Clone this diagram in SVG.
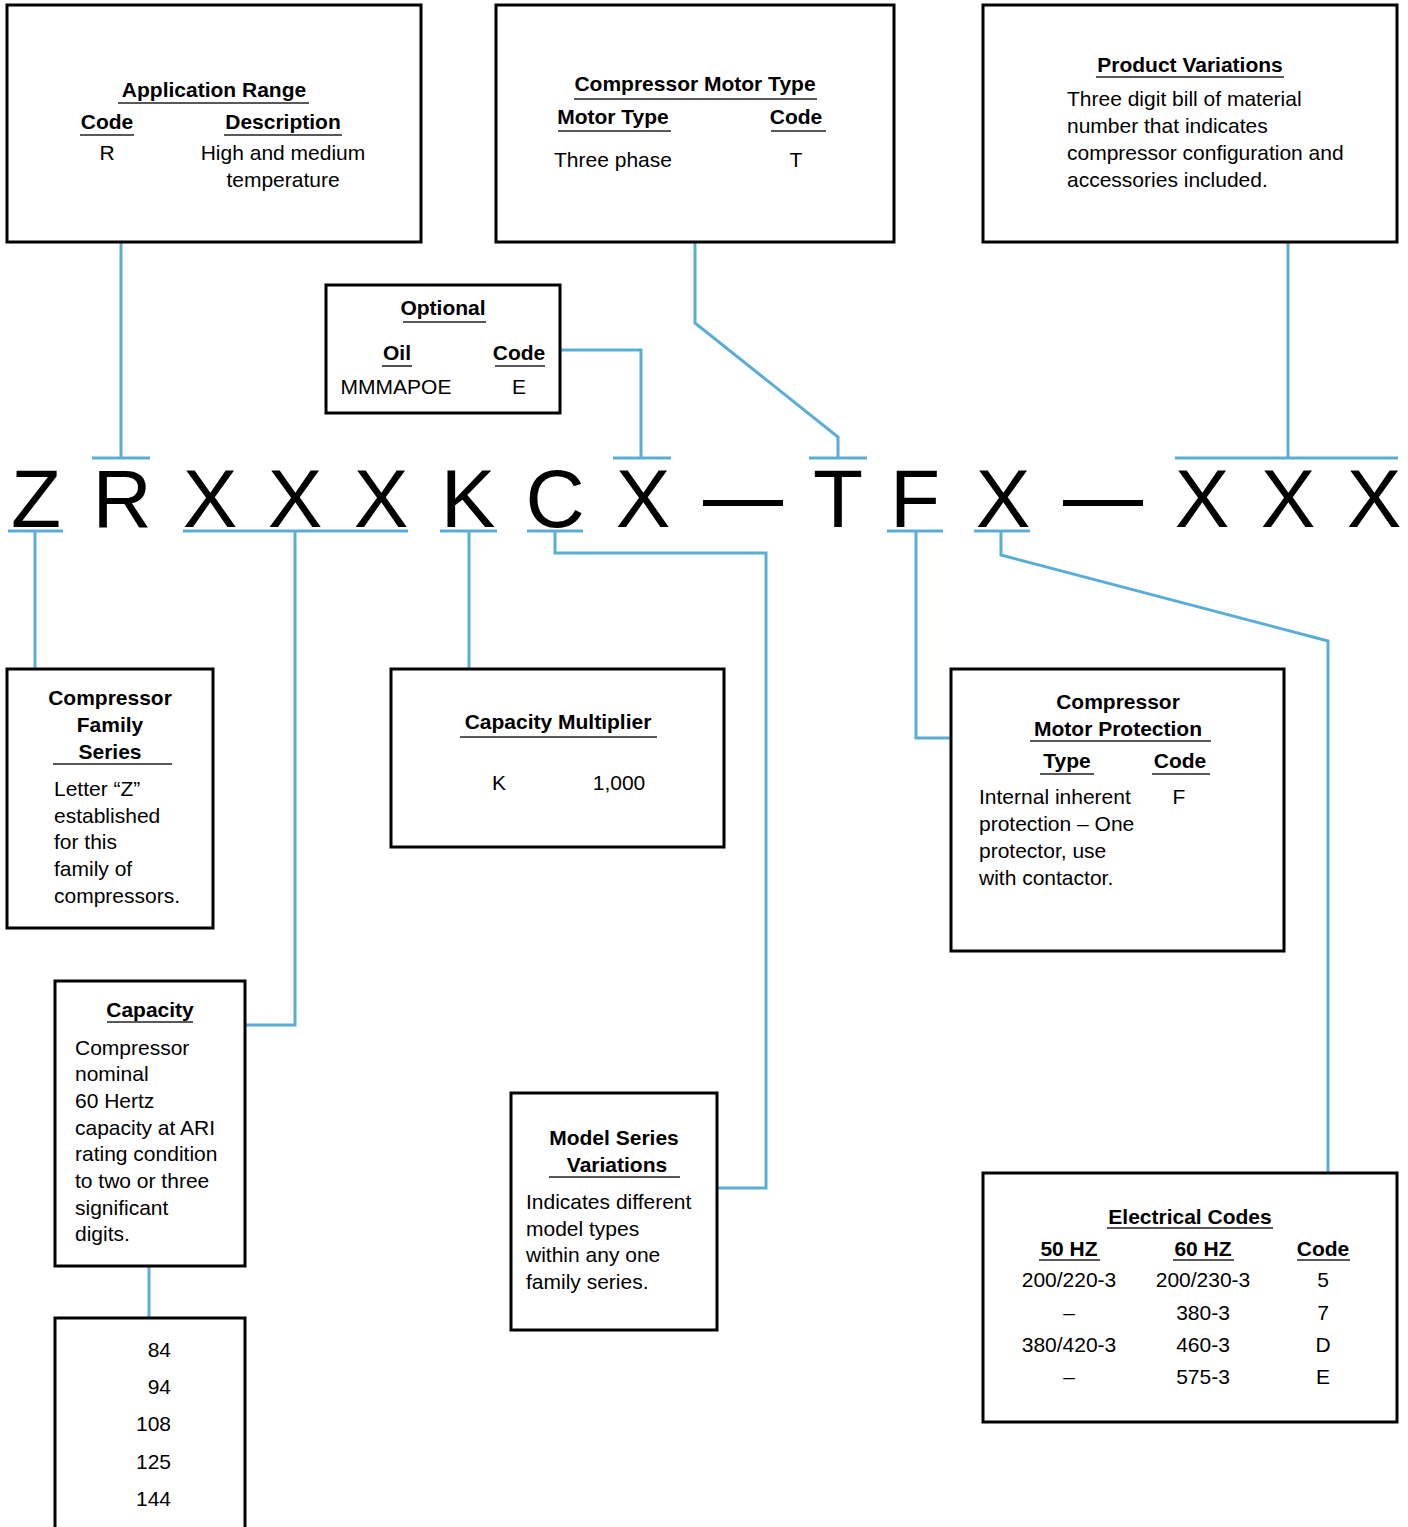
<svg xmlns="http://www.w3.org/2000/svg" width="1408" height="1527" viewBox="0 0 1408 1527">
<style>
.box{fill:#fff;stroke:#000;stroke-width:3}
.con{fill:none;stroke:#5aaed6;stroke-width:3}
.ul{stroke:#222;stroke-width:1.6}
text{font-family:"Liberation Sans",Arial,sans-serif;font-size:21px;fill:#000}
.b{font-weight:bold}
.m{text-anchor:middle}
.r{text-anchor:end}
.big{font-size:82px;text-anchor:middle}
</style>
<rect width="1408" height="1527" fill="#fff"/>
<g id="connectors">
<polyline class="con" points="121,242 121,458"/>
<line class="con" x1="92" y1="458" x2="150" y2="458"/>
<polyline class="con" points="561,350 641,350 641,458"/>
<line class="con" x1="613" y1="458" x2="671" y2="458"/>
<polyline class="con" points="695,242 695,323 838,437 838,458"/>
<line class="con" x1="809" y1="458" x2="867" y2="458"/>
<polyline class="con" points="1288,242 1288,458"/>
<line class="con" x1="1175" y1="458" x2="1398" y2="458"/>
<line class="con" x1="8" y1="531" x2="63" y2="531"/>
<polyline class="con" points="35,531 35,669"/>
<line class="con" x1="183" y1="531" x2="408" y2="531"/>
<polyline class="con" points="295,531 295,1025 245,1025"/>
<line class="con" x1="440" y1="531" x2="497" y2="531"/>
<polyline class="con" points="469,531 469,669"/>
<line class="con" x1="527" y1="531" x2="583" y2="531"/>
<polyline class="con" points="555,531 555,553 766,553 766,1188 717,1188"/>
<line class="con" x1="887" y1="531" x2="943" y2="531"/>
<polyline class="con" points="916,531 916,738 951,738"/>
<line class="con" x1="974" y1="531" x2="1030" y2="531"/>
<polyline class="con" points="1001,531 1001,555 1328,641 1328,1173"/>
<polyline class="con" points="149,1266 149,1317"/>
</g>
<g id="code-letters">
<text class="big" x="36" y="527">Z</text>
<text class="big" x="122" y="527">R</text>
<text class="big" x="210" y="527">X</text>
<text class="big" x="295" y="527">X</text>
<text class="big" x="381" y="527">X</text>
<text class="big" x="468" y="527">K</text>
<text class="big" x="555" y="527">C</text>
<text class="big" x="643" y="527">X</text>
<rect x="703" y="500" width="80" height="6" fill="#000"/>
<text class="big" x="838" y="527">T</text>
<text class="big" x="915" y="527">F</text>
<text class="big" x="1003" y="527">X</text>
<rect x="1063" y="500" width="80" height="6" fill="#000"/>
<text class="big" x="1202" y="527">X</text>
<text class="big" x="1288" y="527">X</text>
<text class="big" x="1374" y="527">X</text>
</g>
<g id="application-range">
<rect class="box" x="7" y="5" width="414" height="237"/>
<text class="b m" x="214" y="97">Application Range</text>
<line class="ul" x1="118" y1="103" x2="309" y2="103"/>
<text class="b m" x="107" y="129">Code</text>
<line class="ul" x1="80" y1="135" x2="134" y2="135"/>
<text class="b m" x="283" y="129">Description</text>
<line class="ul" x1="224" y1="135" x2="342" y2="135"/>
<text class="m" x="107" y="160">R</text>
<text class="m" x="283" y="160">High and medium</text>
<text class="m" x="283" y="187">temperature</text>
</g>
<g id="motor-type">
<rect class="box" x="496" y="5" width="398" height="237"/>
<text class="b m" x="695" y="91">Compressor Motor Type</text>
<line class="ul" x1="574" y1="99" x2="817" y2="99"/>
<text class="b m" x="613" y="124">Motor Type</text>
<line class="ul" x1="558" y1="131" x2="671" y2="131"/>
<text class="b m" x="796" y="124">Code</text>
<line class="ul" x1="771" y1="131" x2="826" y2="131"/>
<text class="m" x="613" y="167">Three phase</text>
<text class="m" x="796" y="167">T</text>
</g>
<g id="product-variations">
<rect class="box" x="983" y="5" width="414" height="237"/>
<text class="b m" x="1190" y="72">Product Variations</text>
<line class="ul" x1="1096" y1="77" x2="1284" y2="77"/>
<text x="1067" y="106">Three digit bill of material</text>
<text x="1067" y="133">number that indicates</text>
<text x="1067" y="160">compressor configuration and</text>
<text x="1067" y="187">accessories included.</text>
</g>
<g id="optional">
<rect class="box" x="326" y="285" width="234" height="128"/>
<text class="b m" x="443" y="315">Optional</text>
<line class="ul" x1="403" y1="322" x2="486" y2="322"/>
<text class="b m" x="397" y="360">Oil</text>
<line class="ul" x1="382" y1="366" x2="412" y2="366"/>
<text class="b m" x="519" y="360">Code</text>
<line class="ul" x1="495" y1="366" x2="545" y2="366"/>
<text class="m" x="396" y="394">MMMAPOE</text>
<text class="m" x="519" y="394">E</text>
</g>
<g id="family-series">
<rect class="box" x="7" y="669" width="206" height="259"/>
<text class="b m" x="110" y="705">Compressor</text>
<text class="b m" x="110" y="732">Family</text>
<text class="b m" x="110" y="759">Series</text>
<line class="ul" x1="53" y1="764" x2="172" y2="764"/>
<text x="54" y="796">Letter “Z”</text>
<text x="54" y="823">established</text>
<text x="54" y="849">for this</text>
<text x="54" y="876">family of</text>
<text x="54" y="903">compressors.</text>
</g>
<g id="capacity-multiplier">
<rect class="box" x="391" y="669" width="333" height="178"/>
<text class="b m" x="558" y="729">Capacity Multiplier</text>
<line class="ul" x1="460" y1="737" x2="657" y2="737"/>
<text class="m" x="499" y="790">K</text>
<text class="m" x="619" y="790">1,000</text>
</g>
<g id="motor-protection">
<rect class="box" x="951" y="669" width="333" height="282"/>
<text class="b m" x="1118" y="709">Compressor</text>
<text class="b m" x="1118" y="736">Motor Protection</text>
<line class="ul" x1="1030" y1="741" x2="1211" y2="741"/>
<text class="b m" x="1067" y="768">Type</text>
<line class="ul" x1="1040" y1="774" x2="1094" y2="774"/>
<text class="b m" x="1180" y="768">Code</text>
<line class="ul" x1="1152" y1="774" x2="1210" y2="774"/>
<text x="979" y="804">Internal inherent</text>
<text x="979" y="831">protection – One</text>
<text x="979" y="858">protector, use</text>
<text x="979" y="885">with contactor.</text>
<text class="m" x="1179" y="804">F</text>
</g>
<g id="capacity">
<rect class="box" x="55" y="981" width="190" height="285"/>
<text class="b m" x="150" y="1017">Capacity</text>
<line class="ul" x1="107" y1="1022" x2="193" y2="1022"/>
<text x="75" y="1055">Compressor</text>
<text x="75" y="1081">nominal</text>
<text x="75" y="1108">60 Hertz</text>
<text x="75" y="1135">capacity at ARI</text>
<text x="75" y="1161">rating condition</text>
<text x="75" y="1188">to two or three</text>
<text x="75" y="1215">significant</text>
<text x="75" y="1241">digits.</text>
</g>
<g id="capacity-values">
<rect class="box" x="55" y="1318" width="190" height="230"/>
<text class="r" x="171" y="1357">84</text>
<text class="r" x="171" y="1394">94</text>
<text class="r" x="171" y="1431">108</text>
<text class="r" x="171" y="1469">125</text>
<text class="r" x="171" y="1506">144</text>
</g>
<g id="model-series">
<rect class="box" x="511" y="1093" width="206" height="237"/>
<text class="b m" x="614" y="1145">Model Series</text>
<text class="b m" x="617" y="1172">Variations</text>
<line class="ul" x1="549" y1="1177" x2="680" y2="1177"/>
<text x="526" y="1209">Indicates different</text>
<text x="526" y="1236">model types</text>
<text x="526" y="1262">within any one</text>
<text x="526" y="1289">family series.</text>
</g>
<g id="electrical-codes">
<rect class="box" x="983" y="1173" width="414" height="249"/>
<text class="b m" x="1190" y="1224">Electrical Codes</text>
<line class="ul" x1="1107" y1="1228" x2="1273" y2="1228"/>
<text class="b m" x="1069" y="1256">50 HZ</text>
<line class="ul" x1="1039" y1="1260" x2="1100" y2="1260"/>
<text class="b m" x="1203" y="1256">60 HZ</text>
<line class="ul" x1="1173" y1="1260" x2="1234" y2="1260"/>
<text class="b m" x="1323" y="1256">Code</text>
<line class="ul" x1="1297" y1="1260" x2="1350" y2="1260"/>
<text class="m" x="1069" y="1287">200/220-3</text>
<text class="m" x="1203" y="1287">200/230-3</text>
<text class="m" x="1323" y="1287">5</text>
<text class="m" x="1069" y="1320">–</text>
<text class="m" x="1203" y="1320">380-3</text>
<text class="m" x="1323" y="1320">7</text>
<text class="m" x="1069" y="1352">380/420-3</text>
<text class="m" x="1203" y="1352">460-3</text>
<text class="m" x="1323" y="1352">D</text>
<text class="m" x="1069" y="1384">–</text>
<text class="m" x="1203" y="1384">575-3</text>
<text class="m" x="1323" y="1384">E</text>
</g>
</svg>
